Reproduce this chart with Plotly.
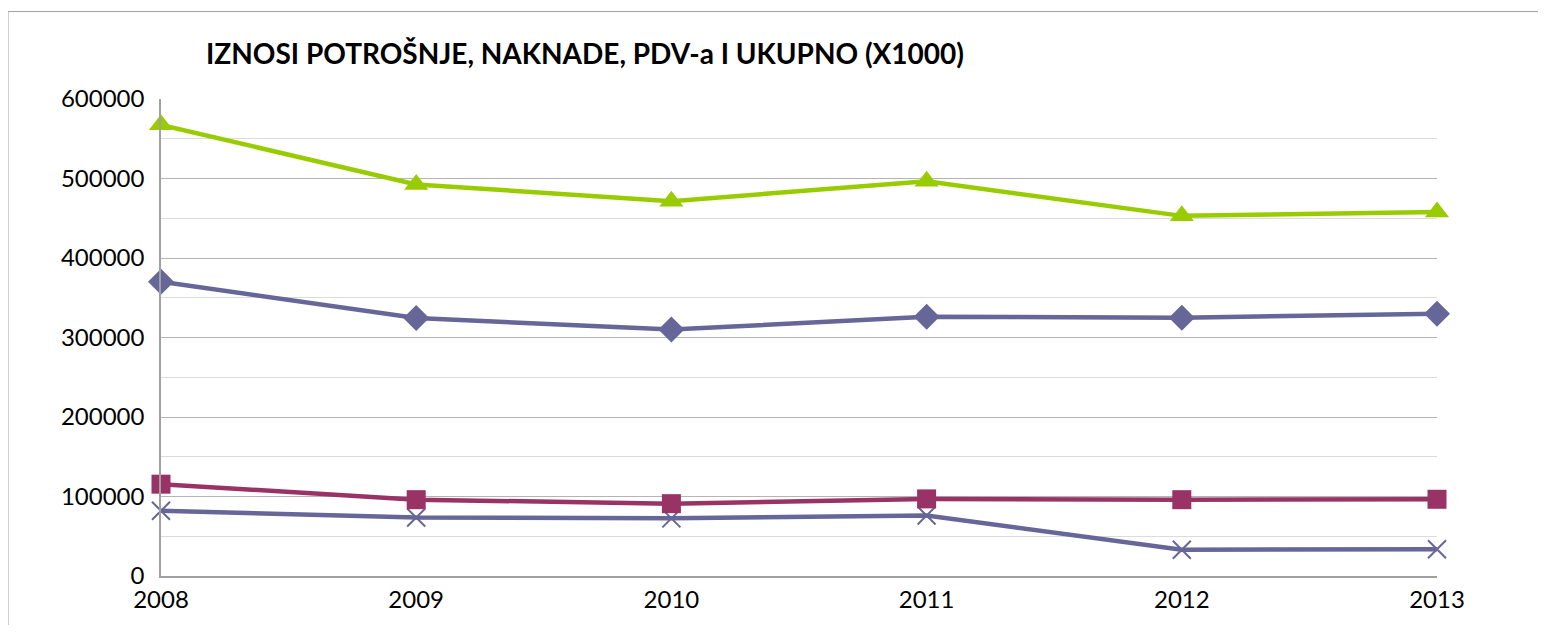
import plotly.graph_objects as go

# data (values in thousands)
years = ["2008", "2009", "2010", "2011", "2012", "2013"]
ukupno = [567500, 492500, 471500, 496500, 453000, 458000]
potrosnja = [370000, 324500, 310000, 326000, 325000, 330000]
naknada = [115500, 96000, 91000, 97000, 96000, 96500]
pdv = [82000, 73500, 72500, 76000, 33000, 33750]

FONT = "Lato, 'Open Sans', sans-serif"

# page has an 8px body margin, so the figure is a bit smaller than the window
W, H = 1530, 617

fig = go.Figure()

fig.add_trace(go.Scatter(
    x=years, y=pdv, name="PDV", mode="lines+markers",
    line=dict(color="#666699", width=4.5),
    marker=dict(symbol="x-thin", size=18, line=dict(color="#666699", width=2)),
))
fig.add_trace(go.Scatter(
    x=years, y=naknada, name="Naknada", mode="lines+markers",
    line=dict(color="#993366", width=4.5),
    marker=dict(symbol="square", size=19, color="#993366"),
))
fig.add_trace(go.Scatter(
    x=years, y=potrosnja, name="Potrošnja", mode="lines+markers",
    line=dict(color="#666699", width=4.5),
    marker=dict(symbol="diamond", size=20, color="#666699"),
))
fig.add_trace(go.Scatter(
    x=years, y=ukupno, name="Ukupno", mode="lines+markers",
    line=dict(color="#99cc00", width=4.5),
    marker=dict(symbol="triangle-up", size=21, color="#99cc00"),
))

fig.update_layout(
    width=W, height=H,
    margin=dict(l=153, r=101, t=91, b=46),
    paper_bgcolor="white", plot_bgcolor="white",
    showlegend=False,
    font=dict(family=FONT, size=24, color="black"),
    title=dict(
        text="<b>IZNOSI POTROŠNJE, NAKNADE, PDV-a I UKUPNO (X1000)</b>",
        x=198 / W, xanchor="left", y=1 - 46 / H, yanchor="middle",
        font=dict(family=FONT, size=28, color="black"),
    ),
    xaxis=dict(
        type="category", range=[0, 5], showgrid=False,
        showline=True, linecolor="#a0a0a0", linewidth=1.5,
        ticks="", ticklabelstandoff=1, zeroline=False,
    ),
    yaxis=dict(
        range=[0, 600000], dtick=100000, tickformat="d",
        showgrid=True, gridcolor="#b4b4b4", gridwidth=1,
        minor=dict(dtick=50000, showgrid=True, gridcolor="#dcdcdc", gridwidth=1),
        showline=True, linecolor="#a0a0a0", linewidth=1.5,
        ticks="", ticklabelstandoff=10, zeroline=False,
    ),
    shapes=[dict(
        type="rect", xref="paper", yref="paper",
        x0=-153 / 1276, x1=1.2, y0=-0.2, y1=(480 + 88) / 480,
        line=dict(color="#a0a0a0", width=1), layer="below",
    )],
)

fig.update_traces(cliponaxis=False)

fig.write_html("out.html")
